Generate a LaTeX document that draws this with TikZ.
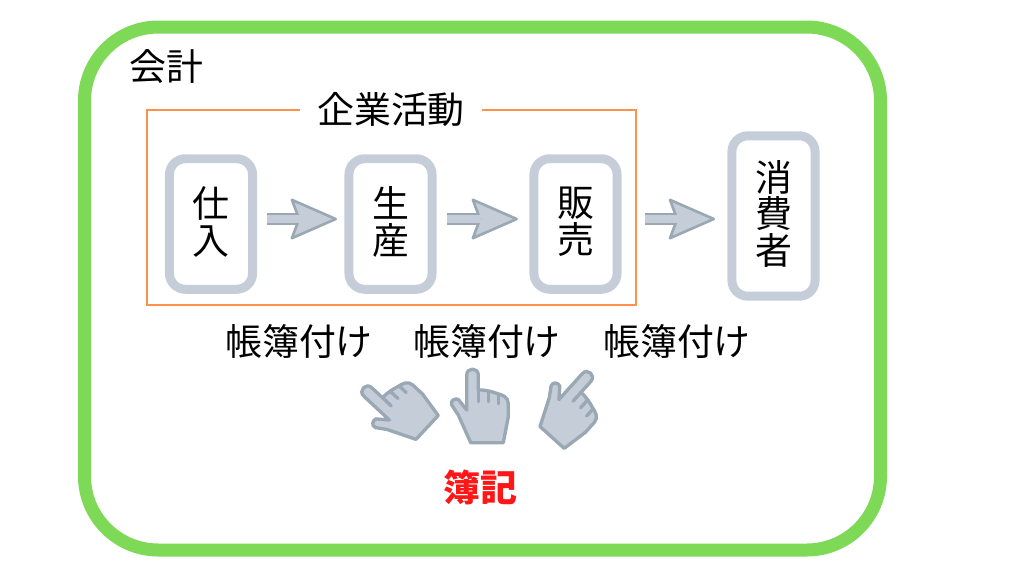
\documentclass[tikz,border=0pt]{standalone}
\usepackage{fontspec}
\usepackage{xcolor}
\usepackage{tikz}
\setmainfont{Noto Sans CJK JP}
\usetikzlibrary{positioning,calc,arrows.meta}

\definecolor{framegreen}{HTML}{7ED957}
\definecolor{frameorange}{HTML}{FF914D}
\definecolor{paleslate}{HTML}{C5CED8}
\definecolor{darkslate}{HTML}{9AA8B3}
\definecolor{bokired}{HTML}{FF1616}

\tikzset{
    pxtext/.style={font=\fontsize{21pt}{20.8pt}\selectfont, inner sep=0pt, text=black},
    stepbox/.style={pxtext, draw=paleslate, line width=5.1pt, rounded corners=9pt,
        minimum width=47.3pt, align=center, outer sep=0pt, fill=white, text depth=4.2pt},
    flowarrow/.style={draw=darkslate, line width=6.8pt,
        -{Stealth[length=28pt, width=24.4pt, inset=4.5pt, fill=paleslate, line width=1.5pt, round]},
        postaction={draw=paleslate, line width=4pt, -, shorten >=#1}},
    pics/hand/.style={code={
        \draw[draw=darkslate, fill=paleslate, line width=1.9pt, line join=round]
            (-9.3,36) -- (-21.7,8.3) -- (-28.3,-1.7)
            .. controls (-30,-6) and (-25,-9) .. (-21.7,-7.3) -- (-13.3,3.3) -- (-13.3,-31.7)
            .. controls (-13.3,-39.5) and (-1.7,-39.5) .. (-1.7,-31.7) -- (-1.7,-16.7)
            .. controls (6,-17) and (12,-15) .. (16.7,-13.3)
            .. controls (22,-12) and (28.3,-10) .. (28.3,-3.3)
            -- (28.3,10) -- (23.3,36) -- cycle;
        \draw[draw=darkslate, line width=1.9pt, line cap=round]
            (-1.7,-16.7) -- (-1.7,-5)
            (8.3,-14.5) -- (8.3,-5)
            (18.3,-12.5) -- (18.3,-3);
    }}
}

\begin{document}
\begin{tikzpicture}[x=0.02cm, y=-0.02cm]
    \useasboundingbox (0,0) rectangle (1024,576);

    % Accounting frame
    \draw[framegreen, line width=7.4pt, rounded corners=42pt] (84.5,27) rectangle (880.5,550);
    \node[pxtext] (kaikei) at (166,67) {会計};

    % Business frame
    \node[pxtext] (kigyo) at (391,110) {企業活動};
    \draw[frameorange, line width=0.9pt] ([xshift=-9.5pt]kigyo.west) -- (147,110) |- (636,305) |- ([xshift=9.5pt]kigyo.east);

    % Steps
    \node[stepbox, minimum height=74.3pt] (siire) at (211,224) {仕\\入};
    \node[stepbox, minimum height=74.3pt] (seisan) at (390.5,224) {生\\産};
    \node[stepbox, minimum height=74.3pt] (hanbai) at (575.5,224) {販\\売};
    \node[stepbox, minimum height=91.3pt] (shohisha) at (773.5,216) {消\\費\\者};

    % Flow
    \coordinate (flowline) at (0,219);
    \draw[flowarrow=27pt, shorten <=8.2pt, shorten >=6.8pt] (siire.east |- flowline) -- (seisan.west |- flowline);
    \draw[flowarrow=30pt, shorten <=8.5pt, shorten >=9.1pt] (seisan.east |- flowline) -- (hanbai.west |- flowline);
    \draw[flowarrow=30pt, shorten <=15.9pt, shorten >=9.6pt] (hanbai.east |- flowline) -- (shohisha.west |- flowline);

    % Bookkeeping labels
    \foreach \x/\name in {299/choboa, 487/chobob, 677/choboc} {
        \node[pxtext] (\name) at (\x,341) {帳簿付け};
    }

    % Hands
    \pic[rotate=47] (handleft) at (396,408) {hand};
    \pic (handmiddle) at (480,406.7) {hand};
    \pic[rotate=-42] (handright) at (571,406) {hand};

    \node[pxtext, text=bokired, font=\fontsize{21pt}{20.8pt}\selectfont\bfseries] (boki) at (480,487) {簿記};
\end{tikzpicture}
\end{document}
